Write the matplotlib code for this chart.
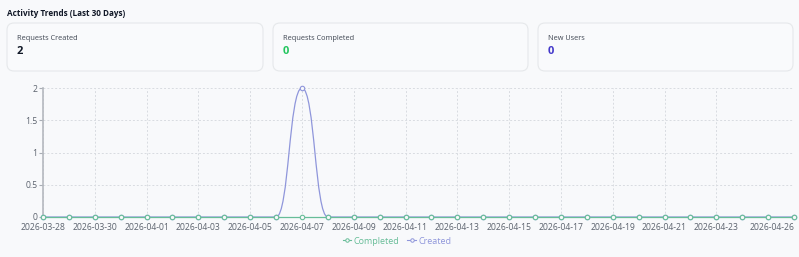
import matplotlib
matplotlib.use("Agg")
import matplotlib.pyplot as plt
from matplotlib.patches import FancyBboxPatch, PathPatch
from matplotlib.path import Path
from matplotlib.lines import Line2D

# data
dates = ["2026-03-28", "2026-03-29", "2026-03-30", "2026-03-31", "2026-04-01",
         "2026-04-02", "2026-04-03", "2026-04-04", "2026-04-05", "2026-04-06",
         "2026-04-07", "2026-04-08", "2026-04-09", "2026-04-10", "2026-04-11",
         "2026-04-12", "2026-04-13", "2026-04-14", "2026-04-15", "2026-04-16",
         "2026-04-17", "2026-04-18", "2026-04-19", "2026-04-20", "2026-04-21",
         "2026-04-22", "2026-04-23", "2026-04-24", "2026-04-25", "2026-04-26"]
created = [0, 0, 0, 0, 0, 0, 0, 0, 0, 0, 2, 0, 0, 0, 0,
           0, 0, 0, 0, 0, 0, 0, 0, 0, 0, 0, 0, 0, 0, 0]
completed = [0] * 30
tick_idx = [0, 2, 4, 6, 8, 10, 12, 14, 16, 18, 20, 22, 24, 26, 29]
card_labels = ["Requests Created", "Requests Completed", "New Users"]
card_values = ["2", "0", "0"]

BG = "#f8f9fb"
GREEN = "#67bd98"
BLUE = "#8f96db"
value_colors = ["#111827", "#22c55e", "#4338ca"]
plt.rcParams["font.family"] = ["Open Sans", "DejaVu Sans"]

W, H = 799, 257
fig = plt.figure(figsize=(W / 100, H / 100), dpi=100, facecolor=BG)

# overlay in pixel units for title and cards
top = fig.add_axes([0, 0, 1, 1], zorder=0)
top.set_xlim(0, W)
top.set_ylim(H, 0)
top.axis("off")

top.text(7, 14, "Activity Trends (Last 30 Days)", fontsize=5.9, fontweight="bold",
         color="#111827", va="center", ha="left")

card_x = [(7, 263), (273, 528), (538, 793)]
for (x0, x1), lab, val, col in zip(card_x, card_labels, card_values, value_colors):
    top.add_patch(FancyBboxPatch((x0, 23), x1 - x0, 48,
                                 boxstyle="round,pad=0,rounding_size=7",
                                 facecolor="#f9fafc", edgecolor="#e6e8eb", linewidth=0.8))
    top.text(x0 + 10, 39, lab, fontsize=5.3, color="#3f4652", va="center", ha="left")
    top.text(x0 + 10, 51, val, fontsize=8, fontweight="bold", color=col,
             va="center", ha="left")

# chart
ax = fig.add_axes([43 / W, 1 - 217 / H, (794 - 43) / W, (217 - 88) / H], zorder=1)
ax.set_facecolor("none")
x = list(range(len(dates)))

# smooth created line: cubic bezier segments with flat tangents at each point
verts = [(x[0], created[0])]
codes = [Path.MOVETO]
for i in range(len(x) - 1):
    dx = (x[i + 1] - x[i]) / 2
    verts += [(x[i] + dx, created[i]), (x[i + 1] - dx, created[i + 1]), (x[i + 1], created[i + 1])]
    codes += [Path.CURVE4] * 3
ax.add_patch(PathPatch(Path(verts, codes), facecolor="none", edgecolor=BLUE, linewidth=0.9,
                       zorder=3, clip_on=False))
ax.plot(x, created, linestyle="none", marker="o", markersize=3.2, markerfacecolor=BG,
        markeredgecolor=BLUE, markeredgewidth=0.8, zorder=4, clip_on=False)
ax.plot(x, completed, color=GREEN, linewidth=0.9, marker="o", markersize=3.2,
        markerfacecolor=BG, markeredgecolor=GREEN, markeredgewidth=0.8, zorder=5, clip_on=False)

ax.set_xlim(0, len(dates) - 1)
ax.set_ylim(0, 2)
ax.set_xticks(tick_idx)
ax.set_xticklabels([dates[i] for i in tick_idx])
ax.get_xticklabels()[-1].set_horizontalalignment("right")
ax.set_yticks([0, 0.5, 1, 1.5, 2])
ax.set_yticklabels(["0", "0.5", "1", "1.5", "2"])
ax.tick_params(axis="x", labelsize=6.2, colors="#5b626d", length=0, pad=4)
ax.tick_params(axis="y", labelsize=6.2, labelcolor="#5b626d", length=3,
               color="#a8adb4", width=0.8, pad=1)
ax.grid(True, color="#d9dce1", linestyle=(0, (2, 2)), linewidth=0.7)
for s in ["top", "right", "bottom"]:
    ax.spines[s].set_visible(False)
ax.spines["left"].set_color("#b5b9bf")
ax.spines["left"].set_linewidth(1.2)

handles = [Line2D([], [], color=GREEN, marker="o", markersize=2.5, markerfacecolor=BG,
                  markeredgecolor=GREEN, markeredgewidth=0.7, linewidth=0.8),
           Line2D([], [], color=BLUE, marker="o", markersize=2.5, markerfacecolor=BG,
                  markeredgecolor=BLUE, markeredgewidth=0.7, linewidth=0.8)]
leg = fig.legend(handles, ["Completed", "Created"], loc="center",
                 bbox_to_anchor=(397 / W, 1 - 241 / H),
                 ncol=2, frameon=False, fontsize=6.5, handlelength=0.9, handletextpad=0.3,
                 columnspacing=0.9)
for t, c in zip(leg.get_texts(), [GREEN, BLUE]):
    t.set_color(c)

fig.savefig("out.png", dpi=100, facecolor=BG)
